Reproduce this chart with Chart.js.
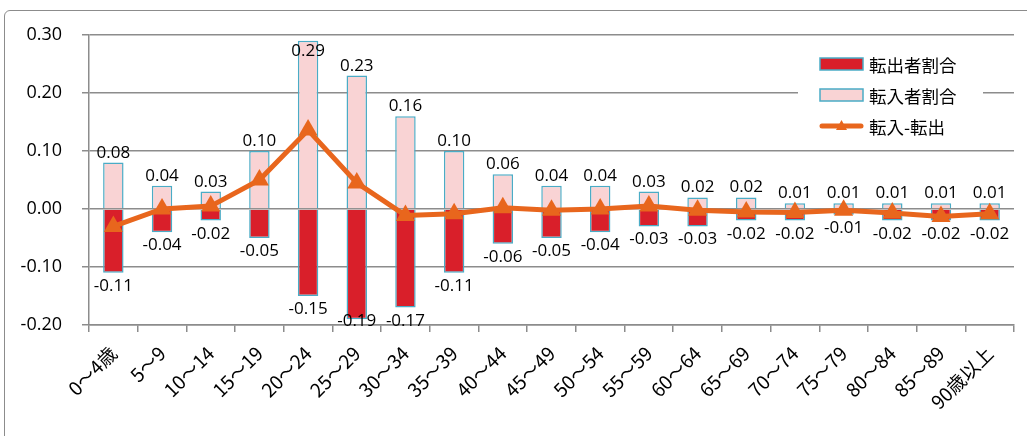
<!DOCTYPE html>
<html lang="ja">
<head>
<meta charset="utf-8">
<title>年齢別 転入・転出者割合</title>
<script src="https://cdn.jsdelivr.net/npm/chart.js@4/dist/chart.umd.min.js"></script>
<style>
  html, body { margin: 0; padding: 0; background: #ffffff; overflow: hidden; }
  #wrap { position: relative; width: 1027px; height: 436px; }
  #frame {
    position: absolute; left: 4px; top: 10px; width: 1040px; height: 460px;
    border: 1.5px solid #8c8c8c; border-radius: 6px; box-sizing: border-box;
  }
  canvas { position: absolute; left: 0; top: 0; }
</style>
</head>
<body>
<div id="wrap">
  <div id="frame"></div>
  <canvas id="chart" width="1027" height="436"></canvas>
</div>
<script>
// 年齢階級
const categories = ['0～4歳', '5～9', '10～14', '15～19', '20～24', '25～29', '30～34', '35～39',
  '40～44', '45～49', '50～54', '55～59', '60～64', '65～69', '70～74', '75～79', '80～84', '85～89', '90歳以上'];

// 転出者割合（マイナス表示）
const outRatio = [-0.11, -0.04, -0.02, -0.05, -0.15, -0.19, -0.17, -0.11, -0.06, -0.05,
  -0.04, -0.03, -0.03, -0.02, -0.02, -0.01, -0.02, -0.02, -0.02];

// 転入者割合
const inRatio = [0.08, 0.04, 0.03, 0.10, 0.29, 0.23, 0.16, 0.10, 0.06, 0.04,
  0.04, 0.03, 0.02, 0.02, 0.01, 0.01, 0.01, 0.01, 0.01];

// 転入-転出
const netRatio = [-0.03, 0.00, 0.005, 0.05, 0.136, 0.045, -0.011, -0.008, 0.002, -0.002,
  0.0, 0.005, -0.002, -0.005, -0.006, -0.002, -0.007, -0.013, -0.008];

// 縦軸の目盛り
const yTicks = [-0.20, -0.10, 0.00, 0.10, 0.20, 0.30];

const RED = '#d91f2a';
const PINK = '#f9d3d4';
const EDGE = '#4aacc6';
const ORANGE = '#e8661d';
const GRID = '#8c8c8c';
const FONT = '"Open Sans", "Noto Sans CJK JP", sans-serif';
const CJK = '"Noto Sans CJK JP", sans-serif';

// バーの値ラベル
const valueLabels = {
  id: 'valueLabels',
  afterDatasetsDraw(chart) {
    const ctx = chart.ctx;
    const area = chart.chartArea;
    ctx.save();
    ctx.font = '17px ' + FONT;
    ctx.fillStyle = '#000';
    ctx.textAlign = 'center';
    ctx.textBaseline = 'alphabetic';
    [0, 1].forEach(di => {
      const meta = chart.getDatasetMeta(di);
      const values = chart.data.datasets[di].data;
      meta.data.forEach((bar, i) => {
        const v = values[i];
        const text = v.toFixed(2);
        if (v >= 0) {
          let y = bar.y - 5;
          if (y - 13 < area.top + 8) y = area.top + 8 + 13;
          ctx.fillText(text, bar.x, y);
        } else {
          let y = bar.y + 18;
          if (y > area.bottom + 1) y = area.bottom + 1;
          ctx.fillText(text, bar.x, y);
        }
      });
    });
    ctx.restore();
  }
};

// 凡例（グラフ内右上）
const innerLegend = {
  id: 'innerLegend',
  afterDraw(chart) {
    const ctx = chart.ctx;
    const ds = chart.data.datasets;
    const x0 = 820, rows = [64, 95, 126];
    ctx.save();
    ctx.fillStyle = '#fff';
    ctx.fillRect(798, 46, 185, 96);
    ctx.font = '17.5px ' + CJK;
    ctx.textBaseline = 'middle';
    ctx.textAlign = 'left';
    // 転出者割合
    ctx.fillStyle = RED;
    ctx.fillRect(x0, rows[0] - 6, 43, 12);
    ctx.strokeStyle = EDGE; ctx.lineWidth = 1.5;
    ctx.strokeRect(x0, rows[0] - 6, 43, 12);
    // 転入者割合
    ctx.fillStyle = PINK;
    ctx.fillRect(x0, rows[1] - 6, 43, 12);
    ctx.strokeRect(x0, rows[1] - 6, 43, 12);
    // 転入-転出
    ctx.strokeStyle = ORANGE; ctx.lineWidth = 5; ctx.lineCap = 'round';
    ctx.beginPath(); ctx.moveTo(x0 + 2, rows[2]); ctx.lineTo(x0 + 41, rows[2]); ctx.stroke();
    ctx.fillStyle = ORANGE;
    ctx.beginPath();
    ctx.moveTo(x0 + 21.5, rows[2] - 6); ctx.lineTo(x0 + 27, rows[2] + 4); ctx.lineTo(x0 + 16, rows[2] + 4);
    ctx.closePath(); ctx.fill();
    ctx.fillStyle = '#000';
    ds.forEach((d, i) => ctx.fillText(d.label, x0 + 49, rows[i] + 1));
    ctx.restore();
  }
};

new Chart(document.getElementById('chart'), {
  type: 'bar',
  data: {
    labels: categories,
    datasets: [
      {
        label: '転出者割合', data: outRatio, backgroundColor: RED, borderColor: EDGE,
        borderWidth: 1.5, grouped: false, categoryPercentage: 1, barPercentage: 0.42, order: 2
      },
      {
        label: '転入者割合', data: inRatio, backgroundColor: PINK, borderColor: EDGE,
        borderWidth: 1.5, grouped: false, categoryPercentage: 1, barPercentage: 0.42, order: 1
      },
      {
        type: 'line', label: '転入-転出', data: netRatio, borderColor: ORANGE, backgroundColor: ORANGE,
        borderWidth: 5, pointStyle: 'triangle', pointRadius: 11, pointBorderWidth: 0,
        pointBackgroundColor: ORANGE, tension: 0, order: 0
      }
    ]
  },
  options: {
    responsive: false,
    devicePixelRatio: 1,
    animation: false,
    layout: { padding: { left: 0, top: 35, right: 13, bottom: 0 } },
    plugins: { legend: { display: false }, tooltip: { enabled: false } },
    scales: {
      x: {
        offset: true,
        grid: { display: true, drawOnChartArea: false, drawTicks: true, tickLength: 7, color: GRID, lineWidth: 1.5, offset: true },
        border: { display: true, color: GRID, width: 1.5 },
        ticks: { autoSkip: false, maxRotation: 45, minRotation: 45, padding: 10, color: '#000', font: { size: 19, family: CJK } },
        afterFit(scale) { scale.height = 111; }
      },
      y: {
        min: -0.2, max: 0.3,
        afterBuildTicks(scale) { scale.ticks = yTicks.map(v => ({ value: v })); },
        grid: { color: GRID, lineWidth: 1.5, tickLength: 7, drawTicks: true },
        border: { display: true, color: GRID, width: 1.5 },
        ticks: { padding: 20, color: '#000', font: { size: 18, family: FONT }, callback: v => Number(v).toFixed(2) },
        afterFit(scale) { scale.width = 89; }
      }
    }
  },
  plugins: [valueLabels, innerLegend]
});
</script>
</body>
</html>
